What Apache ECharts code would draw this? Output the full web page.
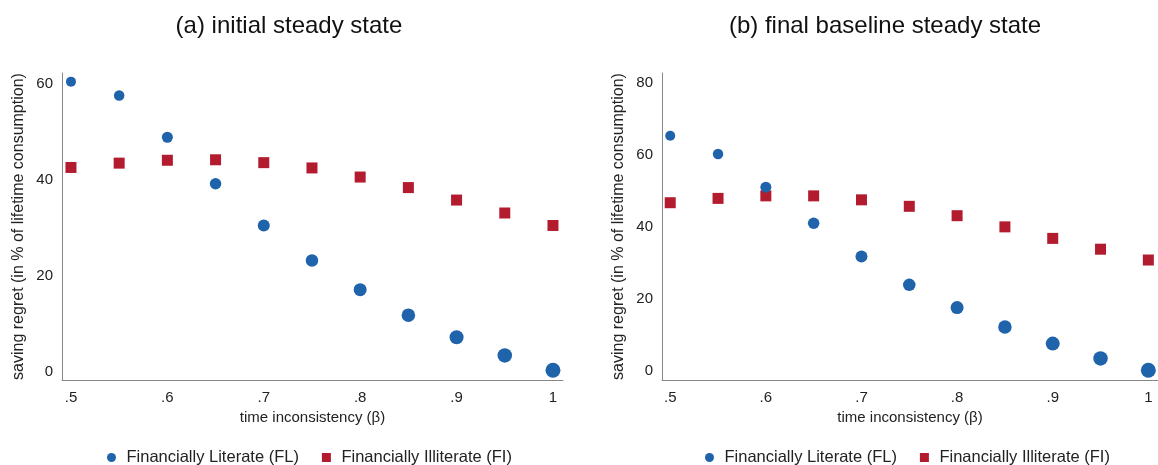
<!DOCTYPE html>
<html>
<head>
<meta charset="utf-8">
<script src="https://cdn.jsdelivr.net/npm/echarts@6/dist/echarts.min.js"></script>
<style>html,body{margin:0;padding:0;background:#fff}#c{width:1158px;height:465px}</style>
</head>
<body>
<div id="c"></div>
<script>
const beta = [0.5, 0.55, 0.6, 0.65, 0.7, 0.75, 0.8, 0.85, 0.9, 0.95, 1.0];
const xTicks = [0.5, 0.6, 0.7, 0.8, 0.9, 1.0];
const xTickLabels = ['.5', '.6', '.7', '.8', '.9', '1'];
const yTicksA = [0, 20, 40, 60];
const yTicksB = [0, 20, 40, 60, 80];
const initFL = [60.5, 57.6, 48.9, 39.2, 30.5, 23.2, 17.1, 11.8, 7.2, 3.4, 0.3];
const initFI = [42.6, 43.5, 44.1, 44.2, 43.6, 42.5, 40.6, 38.4, 35.8, 33.1, 30.5];
const finalFL = [65.3, 60.2, 51.0, 41.0, 31.8, 23.9, 17.6, 12.2, 7.6, 3.5, 0.2];
const finalFI = [46.7, 47.9, 48.6, 48.6, 47.5, 45.7, 43.1, 40.0, 36.8, 33.8, 30.8];
const titles = ['(a) initial steady state', '(b) final baseline steady state'];
const nameFL = 'Financially Literate (FL)';
const nameFI = 'Financially Illiterate (FI)';
const xName = 'time inconsistency (β)';
const yName = 'saving regret (in % of lifetime consumption)';

const FONT = 'Liberation Sans';
const BLUE = '#1f63ab';
const RED = '#b31b2e';
const SQUARE = 'path://M0,0L10,0L10,10L0,10Z';
const pairs = (xs, ys) => xs.map((x, i) => [x, ys[i]]);
const labelMap = {};
xTicks.forEach((t, i) => { labelMap[t.toFixed(2)] = xTickLabels[i]; });

function xAxis(idx, min, max) {
  return {
    gridIndex: idx, type: 'value', min: min, max: max,
    name: xName, nameLocation: 'middle', nameGap: 29,
    nameTextStyle: { fontFamily: FONT, fontSize: 15, color: '#222' },
    axisLine: { show: true, onZero: false, lineStyle: { color: '#888', width: 1 } },
    axisTick: { show: false },
    splitLine: { show: false },
    axisLabel: {
      customValues: xTicks, margin: 10, fontFamily: FONT, fontSize: 15, color: '#222',
      formatter: v => labelMap[Number(v).toFixed(2)] || ''
    }
  };
}
function yAxis(idx, min, max, ticks) {
  return {
    gridIndex: idx, type: 'value', min: min, max: max,
    name: yName, nameLocation: 'middle', nameGap: 35,
    nameTextStyle: { fontFamily: FONT, fontSize: 16, color: '#222' },
    axisLine: { show: true, onZero: false, lineStyle: { color: '#888', width: 1 } },
    axisTick: { show: false },
    splitLine: { show: false },
    axisLabel: { customValues: ticks, margin: 9, fontFamily: FONT, fontSize: 15, color: '#222' }
  };
}
const flSize = (val, p) => 10 + p.dataIndex * 0.5;

const legendStyle = { fontFamily: FONT, fontSize: 16.5, color: '#222' };
const legendData = [{ name: nameFL, icon: 'circle' }, { name: nameFI, icon: SQUARE }];
const option = {
  animation: false,
  backgroundColor: '#fff',
  title: [
    { text: titles[0], left: 284, top: 9, textAlign: 'center', textStyle: { fontFamily: FONT, fontSize: 24, fontWeight: 'normal', color: '#111' } },
    { text: titles[1], left: 880, top: 9, textAlign: 'center', textStyle: { fontFamily: FONT, fontSize: 24, fontWeight: 'normal', color: '#111' } }
  ],
  legend: [
    { left: 102, top: 444, itemWidth: 20, itemHeight: 9, itemGap: 23, symbolKeepAspect: true, textStyle: legendStyle, data: legendData },
    { left: 700, top: 444, itemWidth: 20, itemHeight: 9, itemGap: 23, symbolKeepAspect: true, textStyle: legendStyle, data: legendData }
  ],
  grid: [
    { left: 62, top: 73, width: 501, height: 307 },
    { left: 662, top: 73, width: 499, height: 307 }
  ],
  xAxis: [xAxis(0, 0.4907, 1.0104), xAxis(1, 0.4914, 1.0101)],
  yAxis: [yAxis(0, -1.73, 62.3, yTicksA), yAxis(1, -2.5, 82.7, yTicksB)],
  series: [
    { name: nameFI, type: 'scatter', xAxisIndex: 0, yAxisIndex: 0, symbol: 'rect', symbolSize: 11, itemStyle: { color: RED, opacity: 1 }, data: pairs(beta, initFI) },
    { name: nameFL, type: 'scatter', xAxisIndex: 0, yAxisIndex: 0, symbol: 'circle', symbolSize: flSize, itemStyle: { color: BLUE, opacity: 1 }, data: pairs(beta, initFL) },
    { name: nameFI, type: 'scatter', xAxisIndex: 1, yAxisIndex: 1, symbol: 'rect', symbolSize: 11, itemStyle: { color: RED, opacity: 1 }, data: pairs(beta, finalFI) },
    { name: nameFL, type: 'scatter', xAxisIndex: 1, yAxisIndex: 1, symbol: 'circle', symbolSize: flSize, itemStyle: { color: BLUE, opacity: 1 }, data: pairs(beta, finalFL) }
  ]
};
const chart = echarts.init(document.getElementById('c'), null, { renderer: 'canvas' });
chart.setOption(option);
</script>
</body>
</html>
